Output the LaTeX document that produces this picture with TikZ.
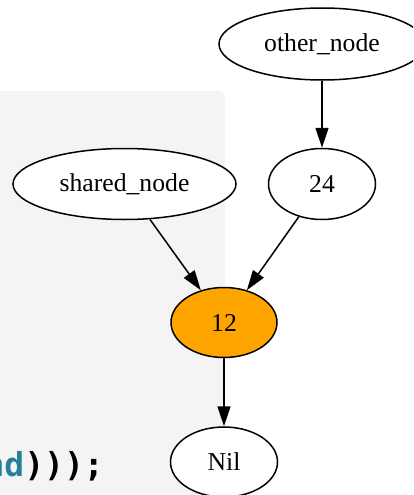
\documentclass[tikz,border=0pt]{standalone}
\usepackage{fontspec}
\setmainfont{Liberation Serif}
\newfontfamily\codefont{DejaVu Sans Mono}
\usetikzlibrary{shapes.geometric,arrows.meta}
\definecolor{panelgray}{HTML}{F4F4F4}
\definecolor{codeteal}{RGB}{38,128,155}
\definecolor{gvorange}{HTML}{FFA500}
\tikzset{
  gvnode/.style={ellipse, draw=black, line width=1.5pt, fill=white,
    inner sep=0pt, font=\fontsize{25.7}{30}\selectfont},
  gvedge/.style={draw=black, line width=1.5pt,
    -{Triangle[length=20pt,width=13pt]}},
}
\begin{document}
\begin{tikzpicture}[x=1pt,y=-1pt]
  \useasboundingbox (0,0) rectangle (413,495);
  \clip (0,0) rectangle (413,495);
  \fill[white] (0,0) rectangle (413,495);
  % code panel behind the graph
  \fill[panelgray, rounded corners=6pt] (-20,91) rectangle (225,520);
  \node[anchor=base east, inner sep=0pt, font=\codefont\bfseries\fontsize{33}{36}\selectfont]
    (code) at (104,476) {\textcolor{codeteal}{nd})));};
  % graph nodes
  \node[gvnode, minimum width=206pt, minimum height=72pt] (other) at (322,44) {other\_node};
  \node[gvnode, minimum width=107pt, minimum height=71pt] (n24) at (322,184) {24};
  \node[gvnode, minimum width=223pt, minimum height=71pt] (shared) at (124.5,184) {shared\_node};
  \node[gvnode, fill=gvorange, minimum width=106pt, minimum height=70pt] (n12) at (224,322.5) {12};
  \node[gvnode, minimum width=107pt, minimum height=70pt] (nil) at (224,462) {Nil};
  % edges
  \draw[gvedge] (other) -- (n24);
  \draw[gvedge] (shared) -- (n12);
  \draw[gvedge] (n24) -- (n12);
  \draw[gvedge] (n12) -- (nil);
\end{tikzpicture}
\end{document}
